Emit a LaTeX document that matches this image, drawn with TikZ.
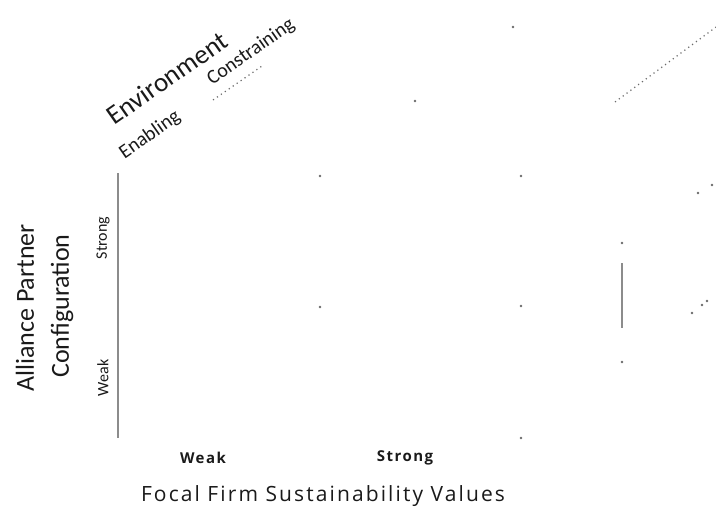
\documentclass[tikz,border=0pt]{standalone}
\usepackage{fontspec}
\setmainfont{Carlito}
\newfontfamily\widefont[LetterSpace=10]{Open Sans}
\usetikzlibrary{positioning}
\definecolor{CubeInk}{HTML}{1A1A1A}
\definecolor{CubeGrey}{HTML}{6A6A6A}
\definecolor{CubeEdge}{HTML}{8C8C8C}
\tikzset{
  cube label/.style={text=CubeInk,inner sep=0pt},
  cube speck/.style={fill=CubeGrey},
  cube dots/.style={CubeGrey,line width=1.2pt,dash pattern=on 1.2pt off 3.6pt},
}

\begin{document}
\begin{tikzpicture}[x=1pt,y=-1pt]

        \useasboundingbox (0,0) rectangle (716,509);

        \coordinate (yTop) at (118,173);
        \coordinate (yBot) at (118,438);
        \draw[CubeEdge,line width=1.4pt] (yTop) -- (yBot);

        \coordinate (envA) at (213,100);
        \coordinate (envB) at (262,66);
        \draw[cube dots] (envA) -- (envB);

        \coordinate (backA) at (615,102);
        \coordinate (backB) at (716,27);
        \draw[cube dots] (backA) -- (backB);

        \coordinate (stubTop) at (622,263);
        \coordinate (stubBot) at (622,328);
        \draw[CubeEdge,line width=2.6pt] (stubTop) -- (stubBot);

        \foreach \px/\py in {320/176,320/307,521/176,521/306,521/438,
            513/27,415/101,622/243,622/362,712/185,698/193,
            707/301,702/305,692/313}
          \fill[cube speck] (\px,\py) circle[radius=1.4];

        \node[cube label,rotate=35,
          font=\fontsize{27}{30}\selectfont]
          (env) at (167,78) {Environment};

        \node[cube label,rotate=35,
          font=\fontsize{20}{22}\selectfont]
          (enab) at (150,135) {Enabling};

        \node[cube label,rotate=35,
          font=\fontsize{20}{22}\selectfont]
          (constr) at (251,52) {Constraining};

        \node[cube label,rotate=90,
          font=\fontsize{26}{28}\selectfont]
          (apcA) at (25,308) {Alliance Partner};

        \node[cube label,rotate=90,
          font=\fontsize{26}{28}\selectfont]
          (apcB) at (62,306) {Configuration};

        \node[cube label,rotate=90,
          font=\fontsize{16}{18}\selectfont]
          (yStrong) at (103,238) {Strong};

        \node[cube label,rotate=90,
          font=\fontsize{16}{18}\selectfont]
          (yWeak) at (103,378) {Weak};

        \node[cube label,
          font=\widefont\bfseries\fontsize{15}{17}\selectfont]
          (xWeak) at (203,458) {Weak};

        \node[cube label,
          font=\widefont\bfseries\fontsize{15}{17}\selectfont]
          (xStrong) at (405,458) {Strong};

        \node[cube label,
          font=\widefont\fontsize{21}{24}\selectfont]
          (ffsv) at (323,496) {Focal Firm Sustainability Values};

      \end{tikzpicture}
\end{document}
